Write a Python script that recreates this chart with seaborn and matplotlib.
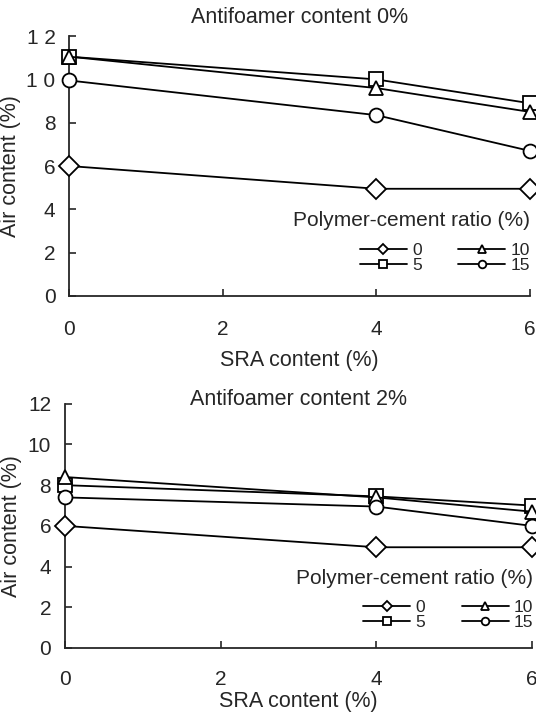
import matplotlib
matplotlib.use("Agg")
import matplotlib.pyplot as plt
import seaborn as sns
import pandas as pd

sns.set_style("ticks")
plt.rcParams['font.family'] = ['Liberation Sans', 'DejaVu Sans']

sra = [0, 4, 6]
ratios = ["0", "5", "10", "15"]
# Antifoamer content 0%
af0_r0 = [6.0, 4.95, 4.95]
af0_r5 = [11.05, 10.0, 8.9]
af0_r10 = [11.05, 9.6, 8.5]
af0_r15 = [9.95, 8.35, 6.7]
# Antifoamer content 2%
af2_r0 = [6.0, 4.95, 4.95]
af2_r5 = [8.0, 7.45, 7.0]
af2_r10 = [8.4, 7.4, 6.7]
af2_r15 = [7.4, 6.95, 6.0]

titles = ["Antifoamer content 0%", "Antifoamer content 2%"]
xticks = [0, 2, 4, 6]
yticks = [0, 2, 4, 6, 8, 10, 12]
ytick_labels_top = ["0", "2", "4", "6", "8", "1 0", "1 2"]
ytick_labels_bot = ["0", "2", "4", "6", "8", "10", "12"]


def long_df(series):
    rows = []
    for r, vals in zip(ratios, series):
        for x, y in zip(sra, vals):
            rows.append({"SRA": x, "Air": y, "Ratio": r})
    return pd.DataFrame(rows)


dfs = [long_df([af0_r0, af0_r5, af0_r10, af0_r15]),
       long_df([af2_r0, af2_r5, af2_r10, af2_r15])]

fig = plt.figure(figsize=(5.36, 7.12), dpi=100)
axes = [fig.add_axes([0.1295, 0.5843, 0.859, 0.365]),
        fig.add_axes([0.1213, 0.0899, 0.871, 0.343])]

markers = {"0": "D", "5": "s", "10": "^", "15": "o"}
palette = {r: "black" for r in ratios}
leg_anchor = [(1.0, 0.088), (1.003, 0.072)]
title_pad = [9.5, -1]
xlabel_pad = [8, 2]

for i, (ax, df) in enumerate(zip(axes, dfs)):
    sns.lineplot(data=df, x="SRA", y="Air", hue="Ratio", style="Ratio",
                 hue_order=ratios, style_order=ratios, palette=palette,
                 markers=markers, dashes=False, ax=ax, linewidth=1.3,
                 markersize=10, markerfacecolor="white",
                 markeredgecolor="black", markeredgewidth=1.3,
                 clip_on=False, zorder=5)
    ax.set_xlim(0, 6)
    ax.set_ylim(0, 12)
    ax.set_xticks(xticks)
    ax.set_yticks(yticks)
    ax.set_yticklabels(ytick_labels_top if i == 0 else ytick_labels_bot)
    ax.tick_params(direction="in", labelsize=15, length=5, width=1.2)
    ax.tick_params(axis="x", pad=17 if i == 0 else 15.5)
    ax.tick_params(axis="y", pad=10)
    for s in ["top", "right"]:
        ax.spines[s].set_visible(False)
    for s in ["left", "bottom"]:
        ax.spines[s].set_linewidth(1.3)
    ax.set_xlabel("SRA content (%)", fontsize=15.5, labelpad=xlabel_pad[i])
    ax.set_ylabel("Air content (%)", fontsize=15.5, labelpad=4)
    ax.set_title(titles[i], fontsize=15.5, pad=title_pad[i], y=1.0)
    leg = ax.legend(title="Polymer-cement ratio (%)", ncol=2, frameon=False,
                    loc="lower right", bbox_to_anchor=leg_anchor[i],
                    fontsize=12.5, title_fontsize=15, markerscale=0.55,
                    handlelength=2.7, columnspacing=2.1, labelspacing=0.0,
                    handletextpad=0.3, borderpad=0.0, borderaxespad=0.0)
    leg._legend_box.align = "right"
    leg._legend_box.sep = 9
    for h in leg.legend_handles:
        h.set_markerfacecolor("white")

fig.savefig("out.png", dpi=100)
